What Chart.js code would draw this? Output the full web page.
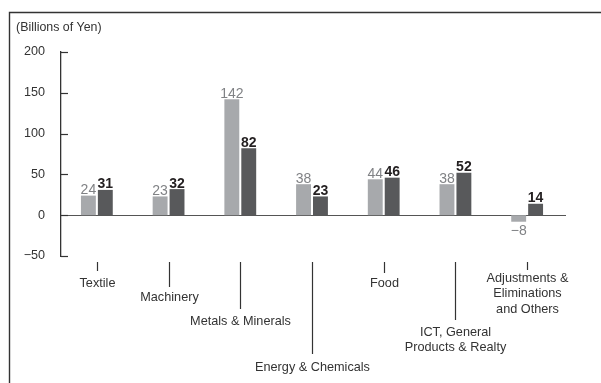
<!DOCTYPE html>
<html>
<head>
<meta charset="utf-8">
<style>
html,body{margin:0;padding:0;background:#fff;}
#wrap{width:601px;height:383px;position:relative;}
</style>
<script src="https://cdn.jsdelivr.net/npm/chart.js@4.4.1/dist/chart.umd.min.js"></script>
</head>
<body>
<div id="wrap"><canvas id="c" width="601" height="383"></canvas></div>
<script>
// ---- data ----
const categories = ['Textile', 'Machinery', 'Metals & Minerals', 'Energy & Chemicals', 'Food',
  ['ICT, General', 'Products & Realty'], ['Adjustments &', 'Eliminations', 'and Others']];
const previousYear = [24, 23, 142, 38, 44, 38, -8];
const currentYear = [31, 32, 82, 23, 46, 52, 14];
const yTickValues = [-50, 0, 50, 100, 150, 200];
const unitLabel = '(Billions of Yen)';

// ---- layout (not data) ----
const leaderLen = [9, 25, 47, 92, 11, 58, 8];      // leader line length below axis
const labelOffset = [27, 41, 65, 111, 27, 76, 22]; // first label line centre below chart bottom

const TEXT = '#333333';
const baseFont = '"Liberation Sans", Arial, sans-serif';
const narrowFont = '"Liberation Sans Narrow", "Arial Narrow", "Liberation Sans", sans-serif';

function fmt(v){ return v < 0 ? '\u2212' + Math.abs(v) : String(v); }

const deco = {
  id: 'deco',
  beforeDraw(chart){
    const ctx = chart.ctx;
    ctx.save();
    ctx.strokeStyle = '#333';
    ctx.lineWidth = 1.4;
    ctx.beginPath();
    ctx.moveTo(9.5, 383); ctx.lineTo(9.5, 12.5); ctx.lineTo(601, 12.5);
    ctx.stroke();
    ctx.fillStyle = TEXT;
    ctx.font = '12.4px ' + baseFont;
    ctx.textBaseline = 'middle';
    ctx.textAlign = 'left';
    ctx.fillText(unitLabel, 16, 28);
    ctx.restore();
  },
  beforeDatasetsDraw(chart){
    const ctx = chart.ctx, y = chart.scales.y, a = chart.chartArea;
    ctx.save();
    ctx.strokeStyle = '#555';
    ctx.lineWidth = 1.2;
    const y0 = Math.round(y.getPixelForValue(0)) + 0.5;
    ctx.beginPath(); ctx.moveTo(a.left, y0); ctx.lineTo(a.right + 3, y0); ctx.stroke();
    // inner tick marks
    ctx.strokeStyle = '#333';
    ctx.lineWidth = 1.2;
    yTickValues.forEach(v => {
      const py = Math.round(y.getPixelForValue(v)) + 0.5;
      ctx.beginPath(); ctx.moveTo(a.left, py); ctx.lineTo(a.left + 7, py); ctx.stroke();
    });
    ctx.restore();
  },
  afterDatasetsDraw(chart){
    const ctx = chart.ctx;
    ctx.save();
    ctx.textAlign = 'center';
    ctx.textBaseline = 'alphabetic';
    chart.data.datasets.forEach((ds, di) => {
      const meta = chart.getDatasetMeta(di);
      meta.data.forEach((bar, i) => {
        const v = ds.data[i];
        ctx.font = (di === 1 ? 'bold ' : '') + '14px ' + narrowFont;
        ctx.fillStyle = di === 1 ? '#231f20' : '#808285';
        const ty = v >= 0 ? bar.y - 1.5 : bar.y + 13.5;
        ctx.fillText(fmt(v), bar.x, ty);
      });
    });
    ctx.restore();
  },
  afterDraw(chart){
    const ctx = chart.ctx, x = chart.scales.x, a = chart.chartArea;
    ctx.save();
    ctx.strokeStyle = '#333';
    ctx.lineWidth = 1.2;
    ctx.fillStyle = TEXT;
    ctx.font = '12.7px ' + baseFont;
    ctx.textAlign = 'center';
    ctx.textBaseline = 'middle';
    categories.forEach((c, i) => {
      const px = Math.round(x.getPixelForValue(i)) + 0.5;
      const top = a.bottom + 6;
      ctx.beginPath(); ctx.moveTo(px, top); ctx.lineTo(px, top + leaderLen[i]); ctx.stroke();
      const lines = Array.isArray(c) ? c : [c];
      lines.forEach((ln, k) => {
        ctx.fillText(ln, px, a.bottom + labelOffset[i] + k * 15.8);
      });
    });
    ctx.restore();
  }
};

new Chart(document.getElementById('c'), {
  type: 'bar',
  data: {
    labels: categories,
    datasets: [
      { label: 'Previous year', data: previousYear, backgroundColor: '#a7a9ac',
        barPercentage: 0.88, categoryPercentage: 0.472 },
      { label: 'Current year', data: currentYear, backgroundColor: '#58595b',
        barPercentage: 0.88, categoryPercentage: 0.472 }
    ]
  },
  options: {
    responsive: false,
    animation: false,
    devicePixelRatio: 1,
    layout: { padding: { top: 52, right: 38, bottom: 0, left: 0 } },
    plugins: { legend: { display: false }, tooltip: { enabled: false }, title: { display: false } },
    scales: {
      x: {
        grid: { display: false },
        border: { display: false },
        ticks: { display: false },
        afterFit(s){ s.height = 127; }
      },
      y: {
        min: -50, max: 200,
        afterBuildTicks(s){ s.ticks = yTickValues.map(v => ({ value: v })); },
        grid: { display: false },
        border: { display: true, color: '#333', width: 1.3 },
        ticks: {
          padding: 8,
          color: TEXT,
          font: { family: baseFont, size: 12.6 },
          callback: v => fmt(v)
        },
        afterFit(s){ s.width = 61; }
      }
    }
  },
  plugins: [deco]
});
</script>
</body>
</html>
